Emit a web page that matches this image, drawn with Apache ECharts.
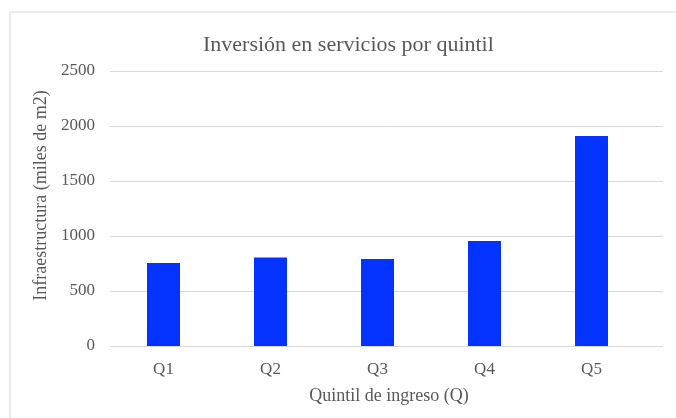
<!DOCTYPE html>
<html>
<head>
<meta charset="utf-8">
<script src="https://cdn.jsdelivr.net/npm/echarts@6/dist/echarts.min.js"></script>
<style>
  html, body { margin: 0; padding: 0; background: #fff; }
  #chart { width: 676px; height: 418px; }
</style>
</head>
<body>
<div id="chart"></div>
<script>
// data
const categories = ['Q1', 'Q2', 'Q3', 'Q4', 'Q5']
const inversion = [755, 805, 790, 955, 1910]
const yTicks = { min: 0, max: 2500, step: 500 }

const font = 'Liberation Serif, Times New Roman, serif'
const textColor = '#595959'

const chart = echarts.init(document.getElementById('chart'))
chart.setOption({
  animation: false,
  title: {
    text: 'Inversión en servicios por quintil',
    left: 198,
    top: 29,
    textStyle: { fontFamily: font, fontSize: 22, fontWeight: 'normal', color: textColor }
  },
  graphic: [{
    type: 'rect',
    shape: { x: 10, y: 12, width: 700, height: 450 },
    style: { fill: null, stroke: '#d9d9d9', lineWidth: 1 },
    silent: true
  }],
  // grid 0: gridlines + axis titles, grid 1: the bars
  grid: [
    { left: 110, right: 13, top: 71, bottom: 72 },
    { left: 110, right: 31, top: 71, bottom: 72 }
  ],
  xAxis: [{
    gridIndex: 0,
    type: 'category',
    data: categories,
    name: 'Quintil de ingreso (Q)',
    nameLocation: 'middle',
    nameGap: 41,
    nameTextStyle: { fontFamily: font, fontSize: 18, color: textColor, padding: [0, 0, 0, 5] },
    axisLine: { show: false },
    axisTick: { show: false },
    axisLabel: { show: false }
  }, {
    gridIndex: 1,
    type: 'category',
    data: categories,
    axisLine: { show: false },
    axisTick: { show: false },
    axisLabel: { fontFamily: font, fontSize: 17, color: textColor, margin: 15 }
  }],
  yAxis: [{
    gridIndex: 0,
    type: 'value',
    min: yTicks.min,
    max: yTicks.max,
    interval: yTicks.step,
    name: 'Infraestructura (miles de m2)',
    nameLocation: 'middle',
    nameGap: 56,
    nameTextStyle: { fontFamily: font, fontSize: 18, color: textColor, padding: [0, 0, 0, 26] },
    axisLine: { show: false },
    axisTick: { show: false },
    axisLabel: { fontFamily: font, fontSize: 17, color: textColor, margin: 15, formatter: v => String(v) },
    splitLine: { lineStyle: { color: '#d9d9d9', width: 1 } }
  }, {
    gridIndex: 1,
    type: 'value',
    min: yTicks.min,
    max: yTicks.max,
    interval: yTicks.step,
    show: false,
    splitLine: { show: false }
  }],
  series: [{
    type: 'bar',
    xAxisIndex: 1,
    yAxisIndex: 1,
    data: inversion,
    barWidth: 33,
    itemStyle: { color: '#0433ff' }
  }]
})
</script>
</body>
</html>
